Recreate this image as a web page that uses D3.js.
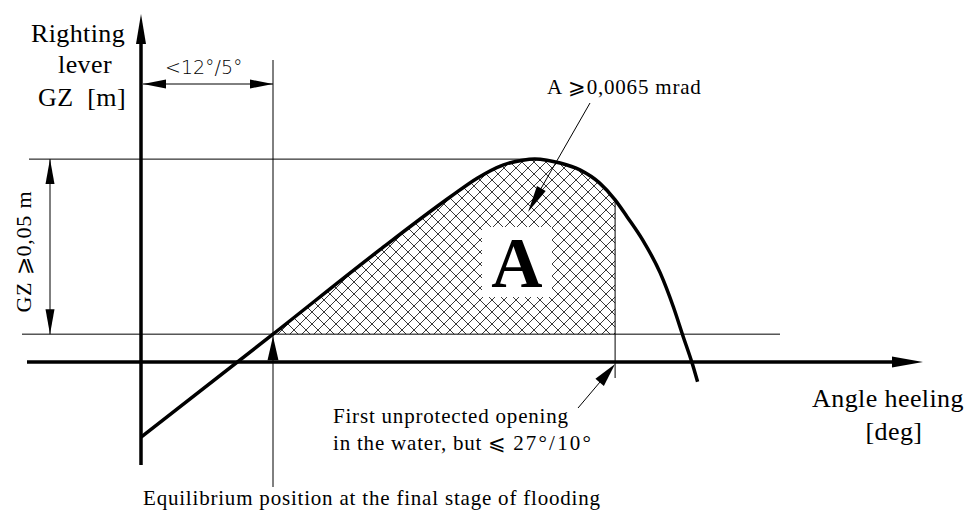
<!DOCTYPE html>
<html>
<head>
<meta charset="utf-8">
<script src="https://cdn.jsdelivr.net/npm/d3@7"></script>
<style>
  body { margin: 0; background: #fff; }
  text { font-family: "Liberation Serif", "Times New Roman", serif; fill: #000; white-space: pre; }
</style>
</head>
<body>
<svg id="chart" width="966" height="510"></svg>
<script>
// Righting lever curve (schematic), heel angle in degrees, GZ in metres
const angleDeg = [0, 12, 21.7, 28.1, 30.6, 32.9, 34.7, 35.8, 36.9, 38.1, 39.9, 41.7, 43.1, 44.2, 45.6, 47.2, 48.4, 49.3, 50.1, 50.6];
const gzMetres = [-0.0216, 0.008, 0.0322, 0.0474, 0.0529, 0.0566, 0.058, 0.0583, 0.058, 0.0572, 0.0552, 0.0514, 0.0466, 0.0417, 0.0351, 0.0256, 0.0158, 0.0072, -0.0003, -0.0057];

// key points of the criteria
const eqAngle = 12;        // equilibrium at final stage of flooding
const openAngle = 43.1;    // first unprotected opening
const gzEq = 0.008;        // GZ at equilibrium
const gzMax = 0.0583;      // maximum GZ

// labels
const yLabel = ["Righting", "lever", "GZ  [m]"];
const xLabel = ["Angle heeling", "[deg]"];
const openLabel = ["First unprotected opening", "in the water, but \u2A7D "];
const openAngles = "27\u00B0/10\u00B0";
const eqLabel = "Equilibrium position at the final stage of flooding";
const areaLabel = "A \u2A7E0,0065 mrad";
const gzLabel = "GZ \u2A7E0,05 m";
const rangeLabel = "<12\u00B0/5\u00B0";

const data = angleDeg.map((a, i) => ({ a: a, gz: gzMetres[i] }));

const svg = d3.select("#chart");

const x = d3.scaleLinear().domain([0, 70]).range([141, 911]);
const y = d3.scaleLinear().domain([0, 0.1]).range([362, 14]);

// crosshatch pattern
const pat = svg.append("defs").append("pattern")
    .attr("id", "hatch").attr("patternUnits", "userSpaceOnUse")
    .attr("width", 12).attr("height", 12);
pat.append("path")
    .attr("d", "M0,0L12,12M12,0L0,12M-1,11L1,13M11,-1L13,1")
    .attr("stroke", "#222").attr("stroke-width", 0.9).attr("fill", "none");

// little filled arrow head: tip, direction (from -> tip), length, half width
function arrowHead(g, tx, ty, fx, fy, len, hw) {
    let dx = tx - fx, dy = ty - fy, d = Math.hypot(dx, dy);
    let ux = dx / d, uy = dy / d;
    let bx = tx - ux * len, by = ty - uy * len;
    g.append("path")
        .attr("d", `M${tx},${ty}L${bx - uy * hw},${by + ux * hw}L${bx + uy * hw},${by - ux * hw}Z`)
        .attr("fill", "#000");
}

function line(g, x1, y1, x2, y2, w) {
    g.append("line")
        .attr("x1", x1).attr("y1", y1).attr("x2", x2).attr("y2", y2)
        .attr("stroke", "#000").attr("stroke-width", w);
}

// hatched area between equilibrium and first opening
const areaData = data.filter(d => d.a >= eqAngle && d.a <= openAngle);
const areaMaker = d3.area()
    .x(d => x(d.a))
    .y0(y(gzEq))
    .y1(d => y(d.gz))
    .curve(d3.curveMonotoneX);
svg.append("path")
    .attr("d", areaMaker(areaData))
    .attr("fill", "url(#hatch)");

const thin = svg.append("g").attr("id", "thin");

// reference lines
line(thin, 29, y(gzMax), x(35.8), y(gzMax), 1);
line(thin, 22, y(gzEq), 780, y(gzEq), 1);
line(thin, x(eqAngle), 60, x(eqAngle), 487, 1);
line(thin, x(openAngle), y(0.0466), x(openAngle), 378, 1);

// axes
const axes = svg.append("g").attr("id", "axes");
line(axes, 27, y(0), 900, y(0), 3.5);
arrowHead(axes, 923, y(0), 27, y(0), 31, 5.5);
line(axes, x(0), 465, x(0), 40, 3.5);
arrowHead(axes, x(0), 14, x(0), 465, 30, 5);

// GZ curve
const lineMaker = d3.line()
    .x(d => x(d.a))
    .y(d => y(d.gz))
    .curve(d3.curveMonotoneX);
svg.append("path")
    .attr("d", lineMaker(data))
    .attr("fill", "none").attr("stroke", "#000")
    .attr("stroke-width", 3.5).attr("stroke-linejoin", "round");

// dimension  <12/5 deg
const dim = svg.append("g").attr("id", "dims");
line(dim, x(0) + 2, 84, x(eqAngle), 84, 1);
arrowHead(dim, x(0) + 2, 84, x(eqAngle), 84, 23, 4.5);
arrowHead(dim, x(eqAngle), 84, x(0), 84, 23, 4.5);
dim.append("text").attr("x", 165).attr("y", 74)
    .style("font-family", "'DejaVu Sans', sans-serif").style("font-size", "19px")
    .style("font-weight", 300)
    .text(rangeLabel);

// dimension GZ >= 0,05
line(dim, 50, y(gzMax), 50, y(gzEq), 1);
arrowHead(dim, 50, y(gzMax), 50, y(gzEq), 25, 4.5);
arrowHead(dim, 50, y(gzEq), 50, y(gzMax), 25, 4.5);
dim.append("text")
    .attr("transform", `translate(31,${(y(gzMax) + y(gzEq)) / 2 + 5}) rotate(-90)`)
    .attr("text-anchor", "middle")
    .style("font-size", "22px").style("letter-spacing", "0.8px")
    .text(gzLabel);

// equilibrium arrow
arrowHead(dim, x(eqAngle), y(gzEq) + 2, x(eqAngle), 487, 24, 5.5);

// opening leader
line(dim, 578, 408, x(openAngle) - 10, y(0) + 14, 1);
arrowHead(dim, x(openAngle), y(0) + 2, 578, 408, 24, 5.5);

// area leader
line(dim, 590, 103, 535, 199, 1);
arrowHead(dim, 528, 212, 590, 103, 27, 5);

// big A
svg.append("rect").attr("x", 482).attr("y", 227).attr("width", 70).attr("height", 70).attr("fill", "#fff");
svg.append("text").attr("x", 517).attr("y", 287)
    .attr("text-anchor", "middle")
    .style("font-size", "71px").style("font-weight", "bold")
    .text("A");

// labels
const small = { "font-size": "21px", "letter-spacing": "0.8px" };
function smallText(tx, ty, s) {
    return svg.append("text").attr("x", tx).attr("y", ty)
        .style("font-size", small["font-size"]).style("letter-spacing", small["letter-spacing"])
        .text(s);
}

smallText(547, 94, areaLabel);

const yl = svg.append("g").attr("text-anchor", "middle")
    .style("font-size", "26px").style("letter-spacing", "0.4px");
[[78, 42], [85, 73], [82, 106]].forEach((p, i) => {
    yl.append("text").attr("x", p[0]).attr("y", p[1]).text(yLabel[i]);
});

const xl = svg.append("g").attr("text-anchor", "middle")
    .style("font-size", "26px").style("letter-spacing", "0.4px");
[[888, 407], [894, 440]].forEach((p, i) => {
    xl.append("text").attr("x", p[0]).attr("y", p[1]).text(xLabel[i]);
});

smallText(333, 423, openLabel[0]);
const t2 = smallText(333, 450, "");
t2.append("tspan").text(openLabel[1]);
t2.append("tspan").style("letter-spacing", "2.2px").text(openAngles);

smallText(143, 505, eqLabel);
</script>
</body>
</html>
